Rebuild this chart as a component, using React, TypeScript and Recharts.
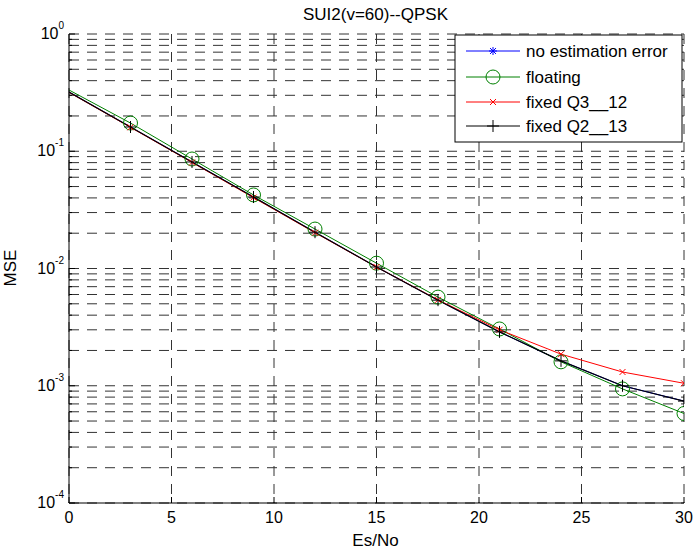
import { LineChart, Line, XAxis, YAxis, CartesianGrid } from 'recharts';

// Es/No (dB) sample points
const esNo = [0, 3, 6, 9, 12, 15, 18, 21, 24, 27, 30];

// MSE per series (blue curve sits under the black one)
const noEstErr = [0.32, 0.161, 0.081, 0.0407, 0.0204, 0.0103, 0.00537, 0.00288, 0.00163, 0.001, 0.00074];
const floating = [0.333, 0.174, 0.0859, 0.0424, 0.0217, 0.0111, 0.0057, 0.00305, 0.0016, 0.00094, 0.00058];
const fixedQ3 = [0.318, 0.16, 0.0803, 0.0402, 0.0202, 0.0103, 0.0054, 0.003, 0.00186, 0.00131, 0.00105];
const fixedQ2 = [0.32, 0.161, 0.081, 0.0407, 0.0204, 0.0103, 0.00537, 0.00288, 0.00163, 0.001, 0.00074];

const xTicks = [0, 5, 10, 15, 20, 25, 30];
const yTicks = [
  0.0001, 0.0002, 0.0003, 0.0004, 0.0005, 0.0006, 0.0007, 0.0008, 0.0009,
  0.001, 0.002, 0.003, 0.004, 0.005, 0.006, 0.007, 0.008, 0.009,
  0.01, 0.02, 0.03, 0.04, 0.05, 0.06, 0.07, 0.08, 0.09,
  0.1, 0.2, 0.3, 0.4, 0.5, 0.6, 0.7, 0.8, 0.9,
  1,
];

const data = esNo.map((x, i) => ({
  x,
  none: noEstErr[i],
  floating: floating[i],
  q3: fixedQ3[i],
  q2: fixedQ2[i],
}));

const FONT = '"Liberation Sans", Arial, Helvetica, sans-serif';

const isDecade = (v: number) => {
  const e = Math.log10(v);
  return Math.abs(e - Math.round(e)) < 1e-6;
};

// markers
const Star = ({ cx, cy, c }: any) => (
  <g stroke={c} strokeWidth={1} fill="none">
    <line x1={cx - 4} x2={cx + 4} y1={cy} y2={cy} />
    <line x1={cx} x2={cx} y1={cy - 4} y2={cy + 4} />
    <line x1={cx - 3} x2={cx + 3} y1={cy - 3} y2={cy + 3} />
    <line x1={cx - 3} x2={cx + 3} y1={cy + 3} y2={cy - 3} />
  </g>
);
const Circle = ({ cx, cy, c }: any) => <circle cx={cx} cy={cy} r={7} stroke={c} strokeWidth={1} fill="none" />;
const Cross = ({ cx, cy, c }: any) => (
  <g stroke={c} strokeWidth={1}>
    <line x1={cx - 3} x2={cx + 3} y1={cy - 3} y2={cy + 3} />
    <line x1={cx - 3} x2={cx + 3} y1={cy + 3} y2={cy - 3} />
  </g>
);
const Plus = ({ cx, cy, c }: any) => (
  <g stroke={c} strokeWidth={1}>
    <line x1={cx - 6} x2={cx + 6} y1={cy} y2={cy} />
    <line x1={cx} x2={cx} y1={cy - 6} y2={cy + 6} />
  </g>
);

// no marker at x = 0
const dotWith = (M: any, c: string) => (props: any) => {
  const { cx, cy, index } = props;
  if (index === 0 || cx == null || cy == null) return <g key={`d${index}`} />;
  return (
    <g key={`d${index}`}>
      <M cx={cx} cy={cy} c={c} />
    </g>
  );
};

const LeftTick = (props: any) => {
  const { x, y, payload } = props;
  const v = payload.value;
  const major = isDecade(v);
  return (
    <g>
      <line x1={x} x2={x + (major ? 6 : 3)} y1={y} y2={y} stroke="#000" />
      {major && (
        <text x={x - 5} y={y + 5} textAnchor="end" fontSize={16} fontFamily={FONT} fill="#000">
          10
          <tspan dy={-10} fontSize={10}>
            {Math.round(Math.log10(v))}
          </tspan>
        </text>
      )}
    </g>
  );
};

const RightTick = (props: any) => {
  const { x, y, payload } = props;
  const major = isDecade(payload.value);
  return <line x1={x} x2={x - (major ? 6 : 3)} y1={y} y2={y} stroke="#000" />;
};

const BottomTick = (props: any) => {
  const { x, y, payload } = props;
  return (
    <g>
      <line x1={x} x2={x} y1={y} y2={y - 6} stroke="#000" />
      <text x={x} y={y + 20} textAnchor="middle" fontSize={16} fontFamily={FONT} fill="#000">
        {payload.value}
      </text>
    </g>
  );
};

const TopTick = (props: any) => {
  const { x, y } = props;
  return <line x1={x} x2={x} y1={y} y2={y + 6} stroke="#000" />;
};

const legendItems = [
  { label: 'no estimation error', color: '#0000ff', M: Star },
  { label: 'floating', color: '#008000', M: Circle },
  { label: 'fixed Q3__12', color: '#ff0000', M: Cross },
  { label: 'fixed Q2__13', color: '#000000', M: Plus },
];
const legendRows = [51, 77, 102, 126];

export default function App() {
  return (
    <div style={{ position: 'absolute', left: 0, top: 0, width: 693, height: 552, background: '#fff' }}>
      <LineChart width={693} height={552} data={data} margin={{ top: 34, right: 9, bottom: 0, left: 0 }}>
        <CartesianGrid stroke="#333" strokeDasharray="10 8" />
        <XAxis
          dataKey="x"
          type="number"
          domain={[0, 30]}
          ticks={xTicks}
          allowDataOverflow
          height={49}
          tickSize={0}
          tickMargin={0}
          tickLine={false}
          tick={BottomTick}
          axisLine={{ stroke: '#000' }}
        />
        <XAxis
          xAxisId="top"
          orientation="top"
          dataKey="x"
          type="number"
          domain={[0, 30]}
          ticks={xTicks}
          allowDataOverflow
          height={0}
          tickSize={0}
          tickMargin={0}
          tickLine={false}
          tick={TopTick}
          axisLine={{ stroke: '#000' }}
        />
        <YAxis
          type="number"
          scale="log"
          domain={[0.0001, 1]}
          ticks={yTicks}
          allowDataOverflow
          width={69}
          tickSize={0}
          tickMargin={0}
          tickLine={false}
          tick={LeftTick}
          interval={0}
          axisLine={{ stroke: '#000' }}
        />
        <YAxis
          yAxisId="right"
          orientation="right"
          type="number"
          scale="log"
          domain={[0.0001, 1]}
          ticks={yTicks}
          allowDataOverflow
          width={0}
          tickSize={0}
          tickMargin={0}
          tickLine={false}
          tick={RightTick}
          interval={0}
          axisLine={{ stroke: '#000' }}
        />
        {/* blue markers are fully covered by the black ones in the original */}
        <Line type="linear" dataKey="none" stroke="#0000ff" strokeWidth={1} dot={false} activeDot={false} isAnimationActive={false} />
        <Line type="linear" dataKey="floating" stroke="#008000" strokeWidth={1} dot={dotWith(Circle, '#008000')} activeDot={false} isAnimationActive={false} />
        <Line type="linear" dataKey="q3" stroke="#ff0000" strokeWidth={1} dot={dotWith(Cross, '#ff0000')} activeDot={false} isAnimationActive={false} />
        <Line type="linear" dataKey="q2" stroke="#000000" strokeWidth={1.2} dot={dotWith(Plus, '#000000')} activeDot={false} isAnimationActive={false} />
      </LineChart>
      <svg width={693} height={552} style={{ position: 'absolute', left: 0, top: 0, pointerEvents: 'none' }}>
        <text x={375.5} y={20} textAnchor="middle" fontSize={17} fontFamily={FONT} fill="#000">
          SUI2(v=60)--QPSK
        </text>
        <text x={375.5} y={546} textAnchor="middle" fontSize={17} fontFamily={FONT} fill="#000">
          Es/No
        </text>
        <text x={16} y={268} textAnchor="middle" fontSize={17} fontFamily={FONT} fill="#000" transform="rotate(-90 16 268)">
          MSE
        </text>
        <rect x={455} y={35} width={227} height={107} fill="#fff" stroke="#000" strokeWidth={1} />
        {legendItems.map((it, i) => {
          const y = legendRows[i];
          const M = it.M;
          return (
            <g key={it.label}>
              <line x1={466} x2={520} y1={y} y2={y} stroke={it.color} strokeWidth={1} />
              <M cx={493} cy={y} c={it.color} />
              <text x={526} y={y + 6} fontSize={17} fontFamily={FONT} fill="#000">
                {it.label}
              </text>
            </g>
          );
        })}
      </svg>
    </div>
  );
}
